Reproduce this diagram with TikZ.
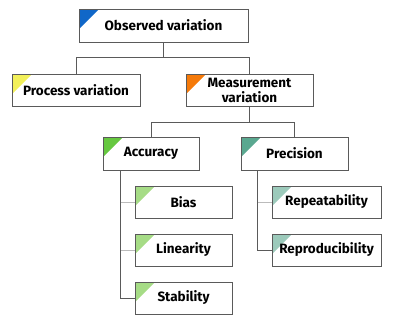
\documentclass[tikz,border=0pt]{standalone}
\usepackage{fontspec}
\setmainfont{Fira Sans}
\usepackage{xcolor}
\usepackage{tikz}

\definecolor{obsblue}{HTML}{1067C8}
\definecolor{procyellow}{HTML}{F2F05A}
\definecolor{measorange}{HTML}{F57A0A}
\definecolor{accgreen}{HTML}{66C840}
\definecolor{precteal}{HTML}{5AA890}
\definecolor{subgreen}{HTML}{A6DC86}
\definecolor{subteal}{HTML}{9CCABB}
\definecolor{boxline}{HTML}{5A5A5A}
\definecolor{branchline}{HTML}{BBBBBB}

\tikzset{
  box/.style={draw=boxline, line width=0.9pt, rectangle, inner sep=0pt,
    minimum height=32pt, align=center, font=\bfseries\fontsize{13.5}{15}\selectfont,
    path picture={\fill[#1] (path picture bounding box.north west)
      -- ++(20pt,0pt) -- ++(-20pt,-20pt) -- cycle;}},
  trunk/.style={draw=boxline, line width=0.9pt},
  branch/.style={draw=branchline, line width=0.9pt}
}

\begin{document}
\begin{tikzpicture}[x=1pt, y=1pt]
  \useasboundingbox (0,0) rectangle (395,-324);

  \node[box=obsblue, minimum width=169pt, minimum height=33pt] (obs) at (163.5,-25.5) {Observed variation};
  \node[box=procyellow, minimum width=128pt] (proc) at (76,-90) {Process variation};
  \node[box=measorange, minimum width=127pt] (meas) at (249.5,-90) {Measurement\\variation};

  \node[box=accgreen, minimum width=96pt, minimum height=33pt] (acc) at (151,-153.5) {Accuracy};
  \node[box=precteal, minimum width=107pt, minimum height=33pt] (prec) at (294.5,-153.5) {Precision};

  \node[box=subgreen, minimum width=97pt] (bias) at (183.5,-202) {Bias};
  \node[box=subgreen, minimum width=97pt] (lin) at (183.5,-250) {Linearity};
  \node[box=subgreen, minimum width=97pt] (stab) at (183.5,-298) {Stability};

  \node[box=subteal, minimum width=109pt] (rep) at (326.5,-202) {Repeatability};
  \node[box=subteal, minimum width=109pt] (repro) at (326.5,-250) {Reproducibility};

  % stems
  \coordinate (obssplit) at (163.5,-57);
  \coordinate (meassplit) at (249.5,-122);
  \coordinate (accstem) at (120,-170);
  \coordinate (precstem) at (257,-170);

  \draw[trunk] (obs.south) -- (obssplit) -| (proc.north);
  \draw[trunk] (obssplit) -| (meas.north);
  \draw[trunk] (meas.south) -- (meassplit) -| (acc.north);
  \draw[trunk] (meassplit) -| (prec.north);

  \draw[branch] (accstem |- bias.west) -- (bias.west);
  \draw[branch] (accstem |- lin.west) -- (lin.west);
  \draw[trunk] (accstem) |- (stab.west);

  \draw[branch] (precstem |- rep.west) -- (rep.west);
  \draw[trunk] (precstem) |- (repro.west);
\end{tikzpicture}
\end{document}
